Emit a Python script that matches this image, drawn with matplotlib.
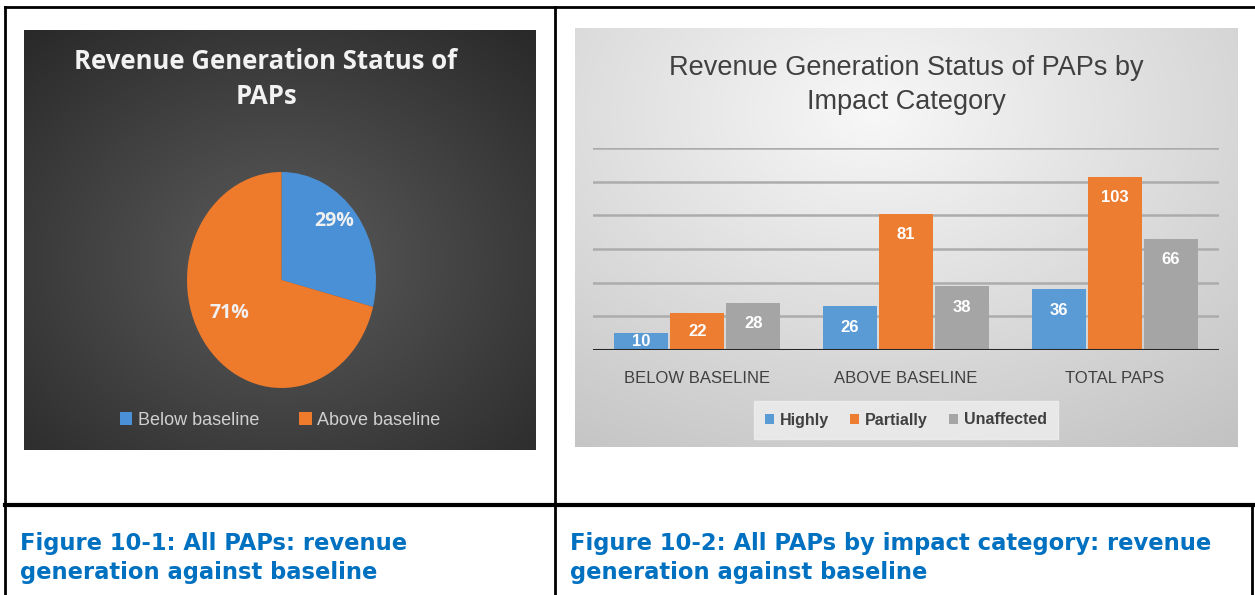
import numpy as np
import matplotlib
matplotlib.use("Agg")
import matplotlib.pyplot as plt
from matplotlib.lines import Line2D

# ---- data ----
pie_labels = ["Below baseline", "Above baseline"]
pie_shares = [29, 71]

categories = ["BELOW BASELINE", "ABOVE BASELINE", "TOTAL PAPS"]
series_names = ["Highly", "Partially", "Unaffected"]
highly = [10, 26, 36]
partially = [22, 81, 103]
unaffected = [28, 38, 66]

captions = ["Figure 10-1: All PAPs: revenue\ngeneration against baseline",
            "Figure 10-2: All PAPs by impact category: revenue\ngeneration against baseline"]

BLUE, ORANGE, GREY = "#5b9bd5", "#ed7d31", "#a5a5a5"
W, H = 1255, 595

fig = plt.figure(figsize=(W / 100, H / 100), dpi=100)
fig.patch.set_facecolor("white")


def box(x0, y0, x1, y1):
    # pixel box (top-left origin) -> figure fraction rect
    return [x0 / W, 1 - y1 / H, (x1 - x0) / W, (y1 - y0) / H]


def hline(x0, x1, y, lw=2):
    fig.add_artist(Line2D([x0 / W, x1 / W], [1 - y / H, 1 - y / H], color="black", lw=lw))


def vline(x, y0, y1, lw=2):
    fig.add_artist(Line2D([x / W, x / W], [1 - y0 / H, 1 - y1 / H], color="black", lw=lw))


def gradient(ax, cx, cy, inner, outer, sx=1.0, sy=1.0):
    yy, xx = np.mgrid[0:1:300j, 0:1:300j]
    r = np.sqrt(((xx - cx) / sx) ** 2 + ((yy - cy) / sy) ** 2)
    r = np.clip(r / r.max(), 0, 1)
    img = inner + (outer - inner) * r[..., None]
    ax.imshow(img, extent=[0, 1, 0, 1], origin="upper", aspect="auto")
    ax.set_axis_off()


# ---- left chart: pie on dark background ----
bg1 = fig.add_axes(box(24, 30, 536, 450))
gradient(bg1, 0.5, 0.55, np.array([0.36, 0.36, 0.36]), np.array([0.16, 0.16, 0.16]), 0.9, 0.9)

fig.text(266 / W, 1 - 79 / H, "Revenue Generation Status of\nPAPs", ha="center", va="center",
         color="#f2f2f2", fontsize=18.5, fontweight="bold", family="Open Sans", linespacing=1.4)

pax = fig.add_axes(box(187, 172, 376, 388))
wedges, _, autotexts = pax.pie(pie_shares, colors=["#4a90d6", "#ee7a2c"], startangle=90,
                               counterclock=False, autopct="%d%%", pctdistance=0.7,
                               wedgeprops=dict(linewidth=0))
for t in autotexts:
    t.set_color("#f0f0f0")
    t.set_fontsize(14)
    t.set_fontweight("bold")
    t.set_family("Open Sans")
    px, py = t.get_position()
    t.set_position((px, py + 0.12))
pax.set_xlim(-1, 1)
pax.set_ylim(-1, 1)
pax.set_aspect("auto")

leg1 = bg1.legend(wedges, pie_labels, loc="center", bbox_to_anchor=(0.5, 0.07), ncol=2,
                  frameon=False, handlelength=0.7, handleheight=0.7,
                  handletextpad=0.3, columnspacing=2.2, labelcolor="#d0d0d0",
                  prop=dict(family="Liberation Sans", size=13))

# ---- right chart: grouped bars on light background ----
bg2 = fig.add_axes(box(575, 28, 1238, 447))
gradient(bg2, 0.45, 0.2, np.array([0.97, 0.97, 0.97]), np.array([0.76, 0.76, 0.76]), 1.0, 1.1)

fig.text(906 / W, 1 - 85 / H, "Revenue Generation Status of PAPs by\nImpact Category", ha="center",
         va="center", color="#404040", fontsize=19.5, family="Liberation Sans", linespacing=1.38)

bax = fig.add_axes(box(593, 148, 1219, 350))
bax.patch.set_alpha(0)
x = np.arange(len(categories))
bw = 0.268
for i, (vals, col) in enumerate(zip([highly, partially, unaffected], [BLUE, ORANGE, GREY])):
    xs = x + (i - 1) * bw
    bax.bar(xs, vals, width=bw - 0.01, color=col, label=series_names[i], zorder=3)
    for xi, v in zip(xs, vals):
        bax.text(xi, max(v - 12.5, v * 0.5), str(v), ha="center", va="center", color="white",
                 fontsize=12, fontweight="bold", family="Liberation Sans", zorder=4)

bax.set_xlim(-0.5, 2.5)
bax.set_ylim(0, 120)
bax.set_yticks(range(20, 121, 20))
bax.yaxis.grid(True, color="#acacac", lw=1.8, zorder=0)
bax.axhline(0, color="#262626", lw=2.2, zorder=5)
bax.tick_params(axis="y", left=False, labelleft=False)
bax.tick_params(axis="x", length=0, pad=15)
bax.set_xticks(x)
bax.set_xticklabels(categories, color="#404040", fontsize=12, family="Liberation Sans")
for s in bax.spines.values():
    s.set_visible(False)

leg2 = bax.legend(loc="center", bbox_to_anchor=(906 / W, 1 - 420 / H), bbox_transform=fig.transFigure,
                  ncol=3, frameon=True, fancybox=False, facecolor="#efefef", edgecolor="#efefef",
                  handlelength=0.55, handleheight=0.55, handletextpad=0.4, columnspacing=1.3,
                  borderpad=0.7, labelcolor="#404040",
                  prop=dict(family="Liberation Sans", size=11.5, weight="bold"))
leg2.get_frame().set_alpha(0.8)

# ---- table borders and captions ----
hline(5, W, 7)
hline(5, 1253, 505, lw=3)
vline(5, 7, H)
vline(555, 7, H)
vline(1252, 505, H)

fig.text(20 / W, 1 - 558 / H, captions[0], ha="left", va="center", color="#0070c0",
         fontsize=16.3, fontweight="bold", family="DejaVu Sans", linespacing=1.3)
fig.text(570 / W, 1 - 558 / H, captions[1], ha="left", va="center", color="#0070c0",
         fontsize=16.3, fontweight="bold", family="DejaVu Sans", linespacing=1.3)

fig.savefig("out.png", dpi=100)
